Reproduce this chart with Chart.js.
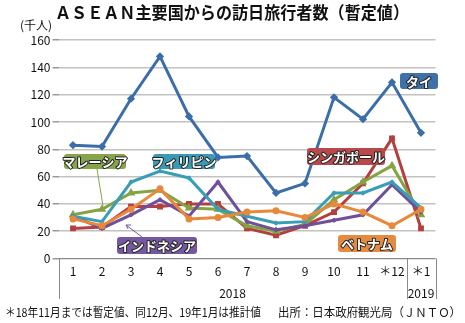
<!DOCTYPE html>
<html>
<head>
<meta charset="utf-8">
<script src="https://cdn.jsdelivr.net/npm/chart.js@4"></script>
<style>
  body { margin: 0; background: #fff; }
  #wrap { width: 465px; height: 323px; }
</style>
</head>
<body>
<div id="wrap"><canvas id="lineChart" width="465" height="323"></canvas></div>
<script>
// month labels (＊ = estimate)
const months = ['1', '2', '3', '4', '5', '6', '7', '8', '9', '10', '11', '＊12', '＊1'];
const yTicks = [0, 20, 40, 60, 80, 100, 120, 140, 160];

// visitors, thousands
const thai        = [83, 82, 117, 148, 104, 74, 75, 48, 55, 118, 102, 129, 92];
const singapore   = [22, 23, 38, 38, 40, 40, 22, 17, 24, 34, 55, 88, 22];
const malaysia    = [32, 36, 48, 50, 37, 36, 24, 20, 25, 43, 56, 68, 32];
const philippines = [31, 27, 56, 64, 59, 36, 31, 26, 27, 48, 48, 56, 37];
const indonesia   = [31, 22, 32, 43, 31, 56, 27, 21, 24, 28, 32, 54, 34];
const vietnam     = [29, 24, 36, 51, 29, 30, 34, 35, 30, 40, 34, 24, 36];

const FONT = '"Noto Sans CJK JP", "Noto Sans", sans-serif';

// squeeze text horizontally so it fits the width it has in the original
function fitText(ctx, text, x, y, width, align) {
    let w = ctx.measureText(text).width;
    let s = Math.min(1, width / w);
    ctx.save();
    ctx.translate(x, y);
    ctx.scale(s, 1);
    ctx.textAlign = align || 'left';
    ctx.fillText(text, 0, 0);
    ctx.restore();
}

// name tags on the lines
const tags = [
    { text: 'タイ',         color: '#3f70a8', x: 400, y: 73,  w: 38, h: 16 },
    { text: 'シンガポール', color: '#b8484a', x: 307, y: 148, w: 78, h: 17 },
    { text: 'マレーシア',   color: '#86a54a', x: 64,  y: 154, w: 62, h: 15 },
    { text: 'フィリピン',   color: '#3a9ab5', x: 153, y: 154, w: 62, h: 15 },
    { text: 'インドネシア', color: '#7558a0', x: 117, y: 237, w: 80, h: 17 },
    { text: 'ベトナム',     color: '#e38b40', x: 338, y: 235, w: 58, h: 17 }
];

const decor = {
    id: 'decor',
    afterDraw(chart) {
        const ctx = chart.ctx;
        const area = chart.chartArea;
        const xs = chart.scales.x;
        ctx.save();

        // title
        ctx.fillStyle = '#111';
        ctx.textBaseline = 'middle';
        ctx.font = 'bold 17px ' + FONT;
        fitText(ctx, 'ＡＳＥＡＮ主要国からの訪日旅行者数（暫定値）', 55, 13, 354);

        ctx.font = '12px ' + FONT;
        fitText(ctx, '(千人)', 20, 25, 35);

        // box under the plot
        let mid = (xs.getPixelForValue(11) + xs.getPixelForValue(12)) / 2;
        ctx.strokeStyle = '#8a8a8a';
        ctx.lineWidth = 1;
        ctx.beginPath();
        ctx.moveTo(area.left, area.bottom); ctx.lineTo(area.right, area.bottom);
        [area.left, mid, area.right].forEach(px => {
            ctx.moveTo(Math.round(px) + 0.5, area.bottom);
            ctx.lineTo(Math.round(px) + 0.5, 299);
        });
        ctx.stroke();

        ctx.fillStyle = '#111';
        ctx.font = '12px ' + FONT;
        ctx.textAlign = 'center';
        ctx.fillText('2018', (area.left + mid) / 2, 293);
        ctx.fillText('2019', (mid + area.right) / 2, 293);

        // footnotes
        ctx.font = '12px ' + FONT;
        fitText(ctx, '＊18年11月までは暫定値、同12月、19年1月は推計値', 5, 312, 256);
        fitText(ctx, '出所：日本政府観光局（ＪＮＴＯ）', 278, 312, 183);

        // leader lines
        ctx.lineWidth = 1;
        ctx.strokeStyle = '#86a54a';
        ctx.beginPath(); ctx.moveTo(97, 169); ctx.lineTo(103, 206); ctx.stroke();
        ctx.strokeStyle = '#7558a0';
        ctx.beginPath(); ctx.moveTo(142, 237); ctx.lineTo(126, 225); ctx.stroke();
        ctx.beginPath(); ctx.moveTo(126, 225); ctx.lineTo(131, 225); ctx.moveTo(126, 225); ctx.lineTo(128, 229); ctx.stroke();

        // tags
        tags.forEach(t => {
            ctx.fillStyle = t.color;
            ctx.beginPath();
            ctx.roundRect(t.x, t.y, t.w, t.h, 3);
            ctx.fill();
            ctx.font = 'bold 13px ' + FONT;
            ctx.textAlign = 'center';
            ctx.textBaseline = 'middle';
            ctx.lineJoin = 'round';
            ctx.lineWidth = 2;
            ctx.strokeStyle = '#222';
            ctx.strokeText(t.text, t.x + t.w / 2, t.y + t.h / 2 + 1);
            ctx.fillStyle = '#fff';
            ctx.fillText(t.text, t.x + t.w / 2, t.y + t.h / 2 + 1);
        });
        ctx.restore();
    }
};

function series(label, data, color, style) {
    return {
        label: label,
        data: data,
        borderColor: color,
        backgroundColor: color,
        borderWidth: 3,
        pointStyle: style,
        pointRadius: 2,
        tension: 0,
        fill: false
    };
}

var ctx = document.getElementById('lineChart').getContext('2d');
var chart = new Chart(ctx, {
    type: 'line',
    data: {
        labels: months,
        datasets: [
            series('タイ', thai, '#3b6ea8', 'rectRot'),
            series('ベトナム', vietnam, '#e8883a', 'circle'),
            series('フィリピン', philippines, '#3a9db6', 'crossRot'),
            series('インドネシア', indonesia, '#6f4f9c', 'crossRot'),
            series('マレーシア', malaysia, '#84a444', 'triangle'),
            series('シンガポール', singapore, '#b3403e', 'rect')
        ]
    },
    options: {
        responsive: false,
        animation: false,
        layout: { padding: { top: 40, right: 29.5, left: 0, bottom: 0 } },
        plugins: {
            legend: { display: false },
            title: { display: false },
            tooltip: { enabled: false }
        },
        scales: {
            x: {
                offset: true,
                grid: { display: false, drawTicks: false },
                border: { display: false },
                ticks: { color: '#111', font: { family: FONT, size: 12 }, padding: 6, maxRotation: 0, autoSkip: false },
                afterFit(scale) { scale.height = 64.5; }
            },
            y: {
                min: 0,
                max: 160,
                afterBuildTicks(scale) { scale.ticks = yTicks.map(v => ({ value: v })); },
                grid: { color: '#c2c2c2', lineWidth: 1.5, tickLength: 6, tickColor: '#999' },
                border: { display: false },
                ticks: { color: '#111', font: { family: FONT, size: 12 }, padding: 2 },
                afterFit(scale) { scale.width = 58.5; }
            }
        }
    },
    plugins: [decor]
});
</script>
</body>
</html>
